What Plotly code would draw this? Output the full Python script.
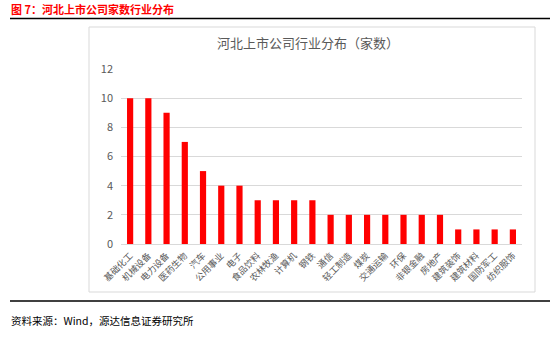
import plotly.graph_objects as go

industries = ["基础化工", "机械设备", "电力设备", "医药生物", "汽车", "公用事业", "电子",
              "食品饮料", "农林牧渔", "计算机", "钢铁", "通信", "轻工制造", "煤炭",
              "交通运输", "环保", "非银金融", "房地产", "建筑装饰", "建筑材料",
              "国防军工", "纺织服饰"]
company_counts = [10, 10, 9, 7, 5, 4, 4, 3, 3, 3, 3, 2, 2, 2, 2, 2, 2, 2, 1, 1, 1, 1]
y_ticks = [0, 2, 4, 6, 8, 10, 12]

W, H = 550, 337
FONT = "Noto Sans CJK SC"

def px_x(v):
    return v / W

def px_y(v):
    return 1 - v / H

fig = go.Figure(go.Bar(
    x=industries, y=company_counts,
    marker=dict(color="#ff0000", line=dict(width=0)),
))

fig.update_layout(
    width=W, height=H,
    margin=dict(l=0, r=0, t=0, b=0),
    paper_bgcolor="white", plot_bgcolor="white",
    showlegend=False,
    bargap=0.66,
    font=dict(family=FONT, color="#595959"),
    xaxis=dict(
        domain=[px_x(121), px_x(522)],
        tickangle=-45, tickfont=dict(size=9, color="#595959"),
        showline=True, linecolor="#d9d9d9", linewidth=1,
        showgrid=False, ticks="", automargin=False,
        ticklabelstandoff=2,
    ),
    yaxis=dict(
        domain=[px_y(244), px_y(69)],
        range=[0, 12], tickvals=y_ticks,
        tickfont=dict(size=11, color="#595959"),
        showgrid=True, gridcolor="#d9d9d9", gridwidth=1,
        zeroline=False, showline=False, ticks="", automargin=False,
        ticklabelstandoff=7,
    ),
    shapes=[
        # header rule
        dict(type="line", xref="paper", yref="paper",
             x0=px_x(10), x1=1, y0=px_y(18.5), y1=px_y(18.5),
             line=dict(color="black", width=1.5)),
        # chart frame
        dict(type="rect", xref="paper", yref="paper",
             x0=px_x(89), x1=px_x(535), y0=px_y(292), y1=px_y(27),
             line=dict(color="#d9d9d9", width=1), layer="below"),
        # footer rule
        dict(type="line", xref="paper", yref="paper",
             x0=px_x(10), x1=1, y0=px_y(301), y1=px_y(301),
             line=dict(color="black", width=1.5)),
    ],
    annotations=[
        dict(text="<b>图 7：河北上市公司家数行业分布</b>", xref="paper", yref="paper",
             x=px_x(9), y=px_y(9), xanchor="left", yanchor="middle",
             showarrow=False, font=dict(family=FONT, size=11, color="#ff0000")),
        dict(text="河北上市公司行业分布（家数）", xref="paper", yref="paper",
             x=px_x(308), y=px_y(43), xanchor="center", yanchor="middle",
             showarrow=False, font=dict(family=FONT, size=13, color="#595959")),
        dict(text="资料来源：Wind，源达信息证券研究所", xref="paper", yref="paper",
             x=px_x(9), y=px_y(320), xanchor="left", yanchor="middle",
             showarrow=False, font=dict(family=FONT, size=10.5, color="black")),
    ],
)

fig.write_html("out.html")
